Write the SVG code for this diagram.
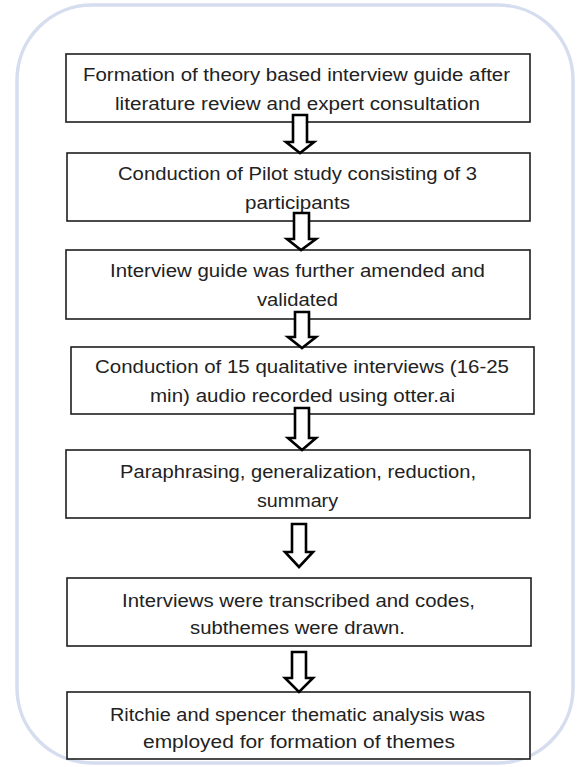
<svg xmlns="http://www.w3.org/2000/svg" width="578" height="767" viewBox="0 0 578 767">
<style>
.frame{fill:#ffffff;stroke:#d5ddef;stroke-width:3.5}
.box{fill:#ffffff;stroke:#1e1e1e;stroke-width:1.6}
.t{font-family:"Liberation Sans",Arial,sans-serif;font-size:17.5px;fill:#222222}
.arr{fill:#ffffff;stroke:#000000;stroke-width:2.6;stroke-linejoin:miter}
</style>
<rect x="0" y="0" width="578" height="767" fill="#ffffff"/>
<rect class="frame" x="17" y="5" width="556" height="758" rx="75" ry="75"/>
<g id="node1">
<rect class="box" x="66" y="54" width="464" height="68"/>
<text class="t" x="83" y="81" textLength="427" lengthAdjust="spacingAndGlyphs">Formation of theory based interview guide after</text>
<text class="t" x="115" y="110" textLength="365" lengthAdjust="spacingAndGlyphs">literature review and expert consultation</text>
</g>
<g id="node2">
<rect class="box" x="67" y="153" width="463" height="68"/>
<text class="t" x="118" y="180" textLength="359" lengthAdjust="spacingAndGlyphs">Conduction of Pilot study consisting of 3</text>
<text class="t" x="245" y="209" textLength="105" lengthAdjust="spacingAndGlyphs">participants</text>
</g>
<g id="node3">
<rect class="box" x="66" y="250" width="464" height="69"/>
<text class="t" x="110" y="277" textLength="375" lengthAdjust="spacingAndGlyphs">Interview guide was further amended and</text>
<text class="t" x="257" y="306" textLength="81" lengthAdjust="spacingAndGlyphs">validated</text>
</g>
<g id="node4">
<rect class="box" x="71" y="347" width="463" height="67"/>
<text class="t" x="95" y="373" textLength="414" lengthAdjust="spacingAndGlyphs">Conduction of 15 qualitative interviews (16-25</text>
<text class="t" x="150" y="402" textLength="305" lengthAdjust="spacingAndGlyphs">min) audio recorded using otter.ai</text>
</g>
<g id="node5">
<rect class="box" x="66" y="450" width="464" height="68"/>
<text class="t" x="120" y="478" textLength="356" lengthAdjust="spacingAndGlyphs">Paraphrasing, generalization, reduction,</text>
<text class="t" x="257" y="507" textLength="81" lengthAdjust="spacingAndGlyphs">summary</text>
</g>
<g id="node6">
<rect class="box" x="67" y="578" width="464" height="68"/>
<text class="t" x="122" y="607" textLength="353" lengthAdjust="spacingAndGlyphs">Interviews were transcribed and codes,</text>
<text class="t" x="190" y="634" textLength="215" lengthAdjust="spacingAndGlyphs">subthemes were drawn.</text>
</g>
<g id="node7">
<rect class="box" x="67" y="692" width="463" height="67"/>
<text class="t" x="110" y="721" textLength="375" lengthAdjust="spacingAndGlyphs">Ritchie and spencer thematic analysis was</text>
<text class="t" x="143" y="748" textLength="312" lengthAdjust="spacingAndGlyphs">employed for formation of themes</text>
</g>
<g id="connectors">
<path class="arr" d="M293,115 H307 V142 H314 L300,153 L286,142 H293 Z"/>
<path class="arr" d="M294,213 H309 V239 H316 L301,250 L287,239 H294 Z"/>
<path class="arr" d="M295,312 H309 V337 H316 L302,348 L288,337 H295 Z"/>
<path class="arr" d="M295,408 H309 V438 H316 L302,450 L288,438 H295 Z"/>
<path class="arr" d="M292,524 H306 V552 H313 L299,567 L285,552 H292 Z"/>
<path class="arr" d="M292,652 H306 V678 H313 L299,692 L285,678 H292 Z"/>
</g>
</svg>
